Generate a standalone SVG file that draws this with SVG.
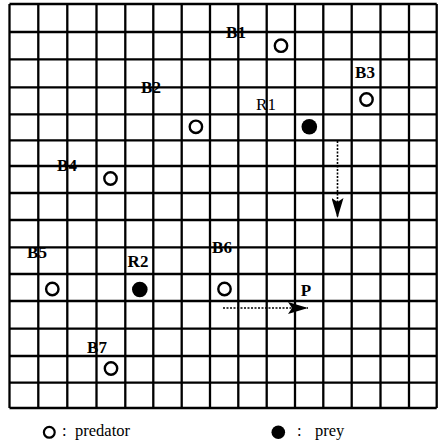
<svg xmlns="http://www.w3.org/2000/svg" width="439" height="446" viewBox="0 0 439 446">
<style>
.grid{fill:none;stroke:#000;stroke-width:2.3}
.lbl{font-family:"Liberation Serif",serif;font-size:17px;font-weight:bold;text-anchor:middle;fill:#000}
.reg{font-weight:normal}
.pred{fill:#fff;stroke:#000;stroke-width:2.4}
.prey{fill:#000}
.dot{fill:none;stroke:#000;stroke-width:1.6;stroke-dasharray:2 1.5}
.leg{font-family:"Liberation Serif",serif;font-size:16.5px;fill:#000}
</style>
<defs>
<marker id="ah" viewBox="0 0 20 12" refX="20" refY="6" markerWidth="20" markerHeight="12" markerUnits="userSpaceOnUse" orient="auto">
<path d="M0,0 L20,6 L0,12 L4,6 Z" fill="#000"/>
</marker>
</defs>
<rect width="439" height="446" fill="#fff"/>
<g id="grid">
<path class="grid" d="M9.5,4V408M38.3,4V408M67.3,4V408M96.5,4V408M125.3,4V408M153.3,4V408M181.7,4V408M210,4V408M238.3,4V408M266.7,4V408M295,4V408M323.3,4V408M351.7,4V408M380.5,4V408M409,4V408M436.7,4V408"/>
<path class="grid" d="M9.5,4H436.7M9.5,32H436.7M9.5,59.3H436.7M9.5,87.3H436.7M9.5,114.3H436.7M9.5,140.3H436.7M9.5,166H436.7M9.5,193H436.7M9.5,220H436.7M9.5,247.3H436.7M9.5,274H436.7M9.5,301H436.7M9.5,328.7H436.7M9.5,356H436.7M9.5,382.7H436.7M9.5,408H436.7"/>
</g>
<g id="connectors">
<path class="dot" d="M337.5,141V218" marker-end="url(#ah)"/>
<path class="dot" d="M223,308H308" marker-end="url(#ah)"/>
</g>
<g id="B1"><text class="lbl" x="236" y="38">B1</text><circle class="pred" cx="281" cy="45.7" r="6.2"/></g>
<g id="B2"><text class="lbl" x="151" y="93">B2</text><circle class="pred" cx="195.9" cy="126.8" r="6.2"/></g>
<g id="B3"><text class="lbl" x="365" y="78">B3</text><circle class="pred" cx="366.5" cy="99.5" r="6.2"/></g>
<g id="R1"><text class="lbl reg" x="266" y="110">R1</text><circle class="prey" cx="309.3" cy="126.8" r="7.8"/></g>
<g id="B4"><text class="lbl" x="67" y="171">B4</text><circle class="pred" cx="110.5" cy="178.5" r="6.2"/></g>
<g id="B5"><text class="lbl" x="37" y="258">B5</text><circle class="pred" cx="52.3" cy="289" r="6.2"/></g>
<g id="R2"><text class="lbl" x="138" y="267">R2</text><circle class="prey" cx="139.8" cy="289.5" r="7.8"/></g>
<g id="B6"><text class="lbl" x="222" y="253">B6</text><circle class="pred" cx="224.5" cy="289" r="6.2"/></g>
<g id="P"><text class="lbl" x="306" y="296">P</text></g>
<g id="B7"><text class="lbl" x="97" y="353">B7</text><circle class="pred" cx="111" cy="368.5" r="6.2"/></g>
<g id="legend">
<circle cx="49.3" cy="432.3" r="5.4" fill="#fff" stroke="#000" stroke-width="2.2"/>
<text class="leg" x="62" y="435.5">:</text>
<text class="leg" x="75" y="435.5">predator</text>
<circle cx="278.3" cy="432.3" r="6.8" fill="#000"/>
<text class="leg" x="297" y="435.5">:</text>
<text class="leg" x="315" y="435.5">prey</text>
</g>
</svg>
